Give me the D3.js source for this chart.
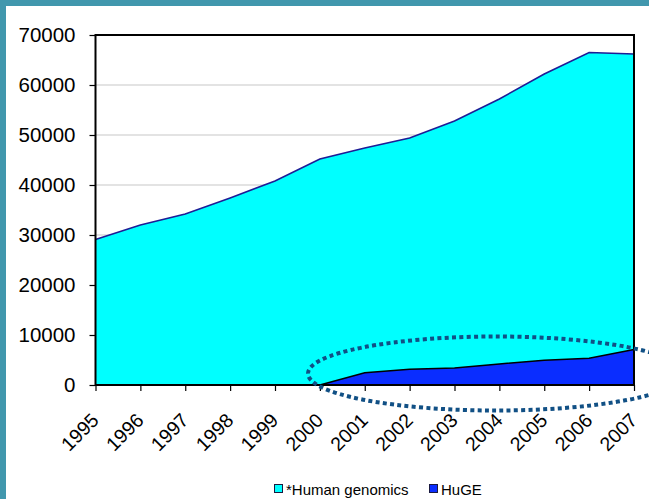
<!DOCTYPE html>
<html>
<head>
<meta charset="utf-8">
<script src="https://cdn.jsdelivr.net/npm/d3@7/dist/d3.min.js"></script>
<style>
  html, body { margin: 0; padding: 0; background: #ffffff; }
  svg { display: block; }
</style>
</head>
<body>
<svg id="chart" width="649" height="499"></svg>
<script>
// Publication counts per year
const years = [1995, 1996, 1997, 1998, 1999, 2000, 2001, 2002, 2003, 2004, 2005, 2006, 2007];
const humanGenomics = [29100, 32000, 34200, 37400, 40800, 45200, 47400, 49400, 52800, 57200, 62200, 66500, 66200];
const huge = [null, null, null, null, null, 0, 2450, 3150, 3400, 4200, 4950, 5350, 7100];
const yTicks = [0, 10000, 20000, 30000, 40000, 50000, 60000, 70000];
const seriesNames = ["*Human genomics", "HuGE"];
const seriesColors = ["#00ffff", "#0a2dff"];

const svg = d3.select("#chart");
const W = 649, H = 499;
const plot = { left: 95.5, right: 634, top: 35, bottom: 385 };

// Frame band along the top and left edges
svg.append("rect").attr("x", 0).attr("y", 0).attr("width", W).attr("height", 6).attr("fill", "#4197ad");
svg.append("rect").attr("x", 0).attr("y", 0).attr("width", 6).attr("height", H).attr("fill", "#4197ad");

const x = d3.scaleLinear().domain([years[0], years[years.length - 1]]).range([plot.left, plot.right]);
const y = d3.scaleLinear().domain([0, 70000]).range([plot.bottom, plot.top]);

// Horizontal gridlines
svg.append("g")
  .selectAll("line")
  .data(yTicks.slice(1, -1))
  .join("line")
  .attr("x1", plot.left).attr("x2", plot.right)
  .attr("y1", d => y(d)).attr("y2", d => y(d))
  .attr("stroke", "#c8c8c8").attr("stroke-width", 1.2);

// Human genomics area
const rowsHG = years.map((yr, i) => ({ yr, v: humanGenomics[i] }));
const areaHG = d3.area().x(d => x(d.yr)).y0(y(0)).y1(d => y(d.v));
svg.append("path").datum(rowsHG)
  .attr("d", areaHG)
  .attr("fill", seriesColors[0]);
svg.append("path").datum(rowsHG)
  .attr("d", d3.line().x(d => x(d.yr)).y(d => y(d.v)))
  .attr("fill", "none").attr("stroke", "#1d1d96").attr("stroke-width", 1.6);

// HuGE area
const rowsHuGE = years.map((yr, i) => ({ yr, v: huge[i] }));
const areaHuGE = d3.area().defined(d => d.v !== null).x(d => x(d.yr)).y0(y(0)).y1(d => y(d.v));
svg.append("path").datum(rowsHuGE)
  .attr("d", areaHuGE)
  .attr("fill", seriesColors[1]);
svg.append("path").datum(rowsHuGE)
  .attr("d", d3.line().defined(d => d.v !== null).x(d => x(d.yr)).y(d => y(d.v)))
  .attr("fill", "none").attr("stroke", "#000000").attr("stroke-width", 1.5);

// Plot frame
svg.append("rect")
  .attr("x", plot.left).attr("y", plot.top)
  .attr("width", plot.right - plot.left).attr("height", plot.bottom - plot.top)
  .attr("fill", "none").attr("stroke", "#000").attr("stroke-width", 2);

// Y axis
const yAxis = svg.append("g")
  .attr("transform", `translate(${plot.left},0)`)
  .call(d3.axisLeft(y).tickValues(yTicks).tickFormat(d3.format("d")).tickSize(6).tickPadding(14));
yAxis.select(".domain").remove();
yAxis.selectAll(".tick line").attr("stroke", "#000").attr("stroke-width", 1.2);
yAxis.selectAll(".tick text")
  .attr("font-family", "Liberation Sans, Arial, sans-serif")
  .attr("font-size", 20.5).attr("fill", "#000");

// X axis
const xAxis = svg.append("g")
  .attr("transform", `translate(0,${plot.bottom})`)
  .call(d3.axisBottom(x).tickValues(years).tickFormat(d3.format("d")).tickSize(6));
xAxis.select(".domain").remove();
xAxis.selectAll(".tick line").attr("stroke", "#000").attr("stroke-width", 1.2);
xAxis.selectAll(".tick text")
  .attr("font-family", "Liberation Sans, Arial, sans-serif")
  .attr("font-size", 19.5).attr("fill", "#000")
  .attr("text-anchor", "end")
  .attr("dy", null).attr("y", null)
  .attr("transform", "translate(4,36.5) rotate(-45)");

// Dotted ellipse highlighting HuGE growth
svg.append("ellipse")
  .attr("cx", 496).attr("cy", 373.5).attr("rx", 188).attr("ry", 37)
  .attr("fill", "none").attr("stroke", "#115085")
  .attr("stroke-width", 4).attr("stroke-dasharray", "4,3.3");

// Legend
const legend = svg.append("g").attr("font-family", "Liberation Sans, Arial, sans-serif").attr("font-size", 15);
const legendX = [274.5, 429.5];
seriesNames.forEach((name, i) => {
  legend.append("rect")
    .attr("x", legendX[i]).attr("y", 484.5).attr("width", 8).attr("height", 8)
    .attr("fill", seriesColors[i]).attr("stroke", "#1a1a40").attr("stroke-width", 1);
  legend.append("text")
    .attr("x", legendX[i] + 11.5).attr("y", 495)
    .attr("fill", "#000").text(name);
});
</script>
</body>
</html>
